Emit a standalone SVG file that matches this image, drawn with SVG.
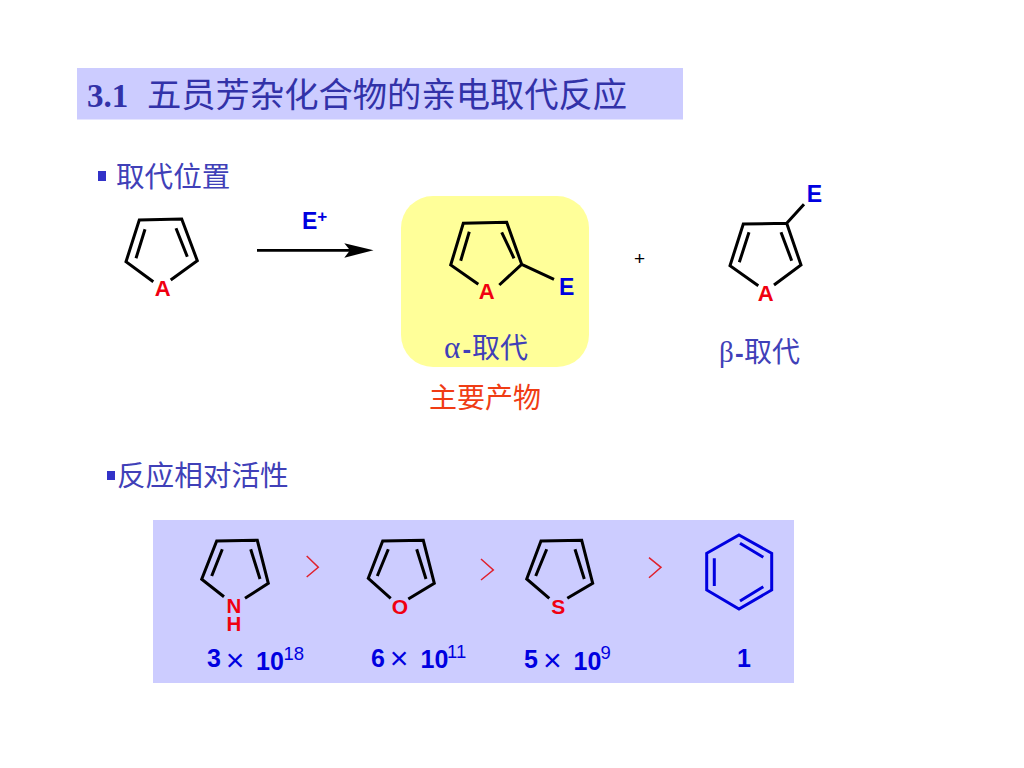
<svg xmlns="http://www.w3.org/2000/svg" width="1024" height="768" viewBox="0 0 1024 768">
<style>
.b{fill:none;stroke:#000;stroke-width:3;stroke-linejoin:miter;stroke-linecap:butt}
.bz{fill:none;stroke:#0000e0;stroke-width:3}
.atom{font-family:"Liberation Sans",Arial,sans-serif;font-weight:bold;fill:#f00010;font-size:22px;text-anchor:middle}
.e{font-family:"Liberation Sans",Arial,sans-serif;font-weight:bold;fill:#0000e0;font-size:23px;text-anchor:middle}
.n{font-family:"Liberation Sans",Arial,sans-serif;font-weight:bold;fill:#0000e0;font-size:25px}
.x{font-family:"Liberation Sans",Arial,sans-serif;fill:#0000e0;font-size:32px;text-anchor:middle}
.sup{font-family:"Liberation Sans",Arial,sans-serif;fill:#0000e0;font-size:18.500px}
.cn{font-family:"Liberation Serif","Noto Sans CJK SC",serif;fill:#4040b8;font-size:28.600px}
.gt{fill:none;stroke:#e0202c;stroke-width:1.5}
</style>
<rect id="title-bar" x="77" y="68" width="606" height="51.500" fill="#ccccff"/>
<text id="title" x="87" y="107" font-family="'Liberation Serif','Noto Sans CJK SC',serif" font-size="34.300" fill="#3232a8"><tspan font-weight="bold" font-size="33">3.1</tspan><tspan x="147">五员芳杂化合物的亲电取代反应</tspan></text>
<g id="section1"><rect x="98" y="171" width="8" height="10" fill="#3232c8"/><text class="cn" x="116" y="187">取代位置</text></g>
<g id="section2"><rect x="107" y="471" width="8" height="9" fill="#3232c8"/><text class="cn" x="117" y="486">反应相对活性</text></g>
<rect id="product-box" x="401" y="196" width="188" height="171" rx="32" fill="#ffff99"/>
<rect id="activity-box" x="153" y="520" width="641" height="163" fill="#ccccff"/>
<g id="connectors">
<line x1="257" y1="250.300" x2="350" y2="250.300" stroke="#000" stroke-width="2.800"/>
<path d="M373.500 250.300L344.300 243.300L350 250.300L344.300 257.700Z" fill="#000"/>
</g>
<g id="reactant">
<path class="b" d="M153.300 281.700L126 261.700L139.300 220L181.700 219L197.300 260.700L170.700 280M145 229.300L136 258.300M176 228.300L187.300 256.700"/>
<text class="atom" x="162.800" y="295.700">A</text>
</g>
<text id="reagent" class="e" x="302" y="229.300" text-anchor="start" style="text-anchor:start">E<tspan font-size="17" dy="-7">+</tspan></text>
<g id="alpha-product">
<path class="b" d="M478.300 284.300L450.700 265L463.300 223.300L506.700 222.300L521.700 264.300L499.300 285M469.300 231.700L460.700 260.700M501.700 232.300L514 258.300M521.700 264.300L554 279.300"/>
<text class="atom" x="486.800" y="299.300">A</text>
<text class="e" x="566.700" y="295">E</text>
</g>
<text id="alpha-label" y="358" font-family="'Liberation Serif','Noto Sans CJK SC',serif" font-size="28" fill="#4040b8"><tspan x="444" font-family="'Liberation Serif',serif" font-size="31">α</tspan><tspan x="462.500" font-family="'Liberation Sans',sans-serif" font-weight="bold" font-size="26">-</tspan><tspan x="472">取代</tspan></text>
<text id="major-label" x="429" y="408" font-family="'Liberation Serif','Noto Sans CJK SC',serif" font-size="28" fill="#f03c14">主要产物</text>
<text id="plus" x="639.500" y="264.500" font-family="'Liberation Sans',sans-serif" font-size="19" fill="#000" text-anchor="middle">+</text>
<g id="beta-product">
<path class="b" d="M758.300 285.700L730 265.700L743.300 224L786.700 223.300L801 265L774 285M749 232.300L739.300 262.300M781 232.300L791.700 260.700M786.700 223.300L804 204.300"/>
<text class="atom" x="765.700" y="300.700">A</text>
<text class="e" x="814.300" y="201.700">E</text>
</g>
<text id="beta-label" y="362" font-family="'Liberation Serif','Noto Sans CJK SC',serif" font-size="28" fill="#4040b8"><tspan x="719" font-family="'Liberation Serif',serif" font-size="29">β</tspan><tspan x="735" font-family="'Liberation Sans',sans-serif" font-weight="bold" font-size="26">-</tspan><tspan x="744">取代</tspan></text>
<g id="pyrrole">
<path class="b" d="M224 596.700L201.700 579.300L216.700 541L257.300 540.300L268.300 583.300L245 598.300M222.300 549.300L211.700 576M250.700 549.300L260 579"/>
<text class="atom" style="font-size:20.500px"><tspan x="234" y="613">N</tspan><tspan x="234" y="630.700">H</tspan></text>
</g>
<g id="furan">
<path class="b" d="M390.700 598.300L368.300 578.300L382.700 541L423.300 540.300L434.300 583.300L408.300 599M388.300 549.300L377.300 576M416.700 549.300L426 579"/>
<text class="atom" x="400" y="614" style="font-size:21px">O</text>
</g>
<g id="thiophene">
<path class="b" d="M549.300 598.300L526.700 579L541 541L581.700 540.300L592.700 583.300L567.300 598.300M546.700 549.300L535.700 576M575 549.300L584.300 579"/>
<text class="atom" x="558.300" y="614" style="font-size:21px">S</text>
</g>
<g id="benzene">
<path class="bz" d="M739 535L771.700 553.300V590L739 609L706.700 590V553.300ZM740 543.300L763.300 557.300M763.300 586.700L740 601M714.300 558.300V586"/>
</g>
<path class="gt" d="M306.700 556L318.300 567.300L306.700 577"/>
<path class="gt" d="M481 559L493.300 570L481 580"/>
<path class="gt" d="M649 557.700L661 567.300L649 577.700"/>
<g id="rate1"><text class="n" x="207" y="667.300">3</text><text class="x" x="235" y="671">×</text><text class="n" x="256" y="669.500">10</text><text class="sup" x="283.500" y="660">18</text></g>
<g id="rate2"><text class="n" x="371" y="666.500">6</text><text class="x" x="399" y="669">×</text><text class="n" x="420.500" y="668.300">10</text><text class="sup" x="447" y="658.300">11</text></g>
<g id="rate3"><text class="n" x="524" y="667.500">5</text><text class="x" x="552.300" y="670.500">×</text><text class="n" x="573.500" y="669.500">10</text><text class="sup" x="600.500" y="659">9</text></g>
<g id="rate4"><text class="n" x="737" y="667.300">1</text></g>
</svg>
